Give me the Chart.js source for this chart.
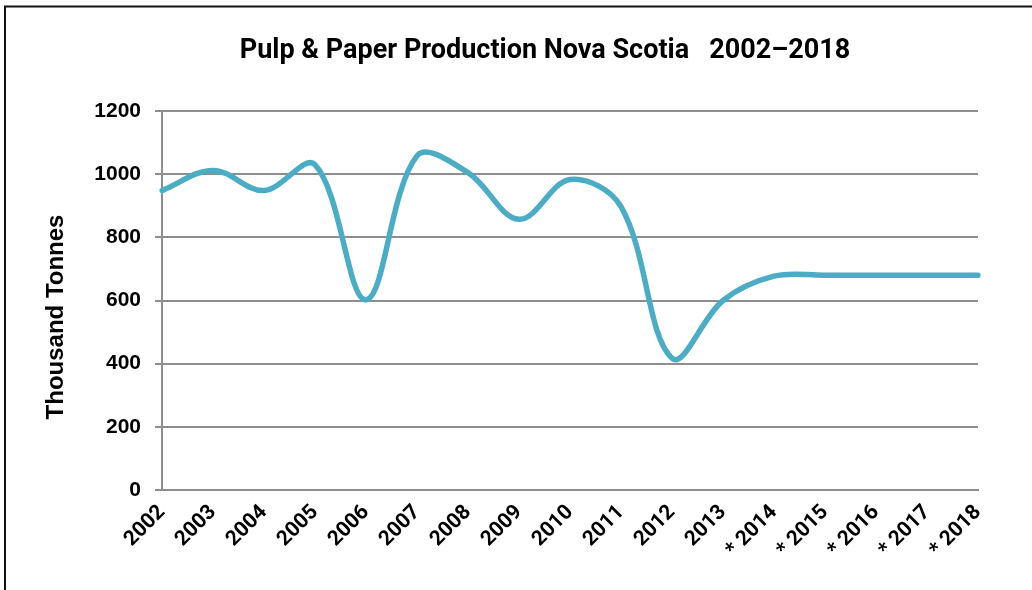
<!DOCTYPE html>
<html>
<head>
<meta charset="utf-8">
<script src="https://cdn.jsdelivr.net/npm/chart.js@4"></script>
<style>
  html, body { margin: 0; padding: 0; background: #fff; }
  #wrap { position: relative; width: 1032px; height: 590px; }
</style>
</head>
<body>
<div id="wrap"><canvas id="graficoProducao" width="1032" height="590"></canvas></div>
<script>
// ============================================================
// DADOS
// ============================================================
const anos = ['2002', '2003', '2004', '2005', '2006', '2007', '2008', '2009', '2010',
  '2011', '2012', '2013', '* 2014', '* 2015', '* 2016', '* 2017', '* 2018'];
const producao = [948, 1012, 948, 1030, 602, 1058, 1005, 857, 983,
  897, 417, 600, 677, 680, 680, 680, 680];
const ticksY = [0, 200, 400, 600, 800, 1000, 1200];
const titulo = 'Pulp & Paper Production Nova Scotia   2002\u20132018';
const tituloY = 'Thousand Tonnes';

const corLinha = '#4BACC6';
const corGrade = '#8e8e8e';

// moldura (so topo e lado esquerdo) + titulos posicionados como na imagem
const moldura = {
  id: 'moldura',
  afterDraw(chart) {
    const c = chart.ctx;
    c.save();
    c.strokeStyle = '#111';
    c.lineWidth = 2;
    c.beginPath();
    c.moveTo(5, 590);
    c.lineTo(5, 6.5);
    c.lineTo(1032, 6.5);
    c.stroke();

    c.fillStyle = '#000';
    c.font = 'bold 27px Roboto';
    c.textAlign = 'center';
    c.textBaseline = 'middle';
    c.fillText(titulo, 545, 51);

    c.translate(56, 317);
    c.rotate(-Math.PI / 2);
    c.font = 'bold 24px "Liberation Sans"';
    c.fillText(tituloY, 0, 0);
    c.restore();
  }
};

// ============================================================
// GRAFICO
// ============================================================
new Chart(document.getElementById('graficoProducao'), {
  type: 'line',
  data: {
    labels: anos,
    datasets: [{
      label: 'Producao',
      data: producao,
      borderColor: corLinha,
      borderWidth: 5.5,
      borderCapStyle: 'round',
      pointRadius: 0,
      tension: 0.36,
      fill: false
    }]
  },
  options: {
    responsive: false,
    animation: false,
    layout: { padding: { left: 0, right: 54, top: 111, bottom: 0 } },
    plugins: {
      legend: { display: false },
      tooltip: { enabled: false },
      title: { display: false }
    },
    scales: {
      x: {
        offset: false,
        grid: { display: false, drawTicks: true, tickLength: 7, color: corGrade },
        border: { display: true, color: corGrade, width: 2 },
        ticks: {
          color: '#000',
          font: { family: 'Roboto', size: 21, weight: 'bold' },
          minRotation: 45,
          maxRotation: 45,
          autoSkip: false,
          padding: 3
        },
        afterFit(scale) { scale.height = 100; }
      },
      y: {
        min: 0,
        max: 1200,
        afterBuildTicks(scale) { scale.ticks = ticksY.map(v => ({ value: v })); },
        grid: { color: corGrade, lineWidth: 2, tickLength: 7 },
        border: { display: true, color: corGrade, width: 2 },
        ticks: {
          color: '#000',
          font: { family: 'Liberation Sans', size: 21, weight: 'bold' },
          padding: 14,
          callback: v => String(v)
        },
        afterFit(scale) { scale.width = 162; }
      }
    }
  },
  plugins: [moldura]
});
</script>
</body>
</html>
